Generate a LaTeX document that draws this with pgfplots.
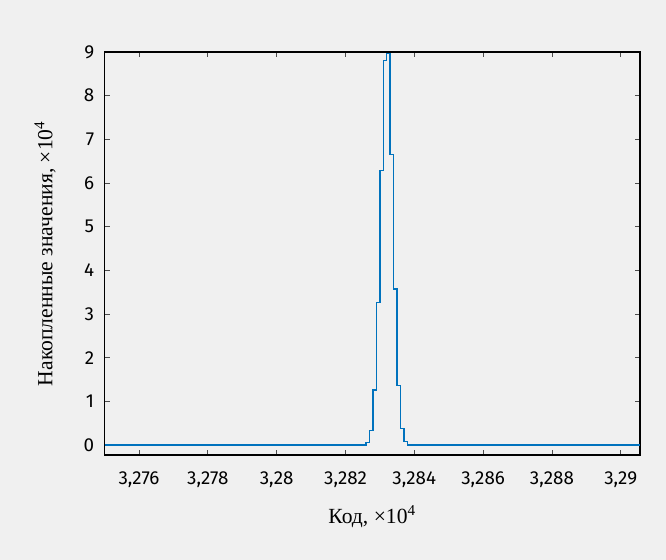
\documentclass[border=0pt]{standalone}
\usepackage{fontspec}
\setmainfont{Liberation Serif}
\newfontfamily\tickfont{Fira Sans}
\usepackage{pgfplots}
\pgfplotsset{compat=1.18}
\definecolor{bg}{RGB}{240,240,240}
\definecolor{mblue}{RGB}{0,114,189}

\begin{document}
\begin{tikzpicture}
% figure background, 666x560 px at 0.5pt per px
\fill[bg] (-52.3pt,-52.5pt) rectangle (280.7pt,227.5pt);
\begin{axis}[
  at={(0,0)}, anchor=south west,
  scale only axis,
  width=267.7pt, height=201.5pt,
  xmin=32750, xmax=32905.6,
  ymin=-0.23, ymax=9,
  scaled x ticks=false,
  xtick={32760,32780,...,32900},
  xticklabels={3{,}276,3{,}278,3{,}28,3{,}282,3{,}284,3{,}286,3{,}288,3{,}29},
  ytick={0,1,...,9},
  /pgf/number format/assume math mode=true,
  tick align=inside,
  major tick length=2.7pt,
  tick style={black!70, line width=0.4pt},
  axis line style={black, line width=0.6pt},
  tick label style={font=\tickfont\fontsize{9.4}{11}\selectfont},
  xticklabel style={yshift=-4.9pt},
  yticklabel style={xshift=-1.7pt},
  every axis x label/.style={at={(rel axis cs:0.5,0)}, anchor=center, yshift=-31pt},
  every axis y label/.style={at={(rel axis cs:0,0.5)}, rotate=90, anchor=center, yshift=29.8pt},
  label style={font=\fontsize{10.8}{13}\selectfont},
  xlabel={Код, ×10\textsuperscript{4}},
  ylabel={Накопленные значения, ×10\textsuperscript{4}},
]
\addplot[const plot, color=mblue, line width=0.7pt] coordinates {
  (32750,0) (32826,0.05) (32827,0.33) (32828,1.26) (32829,3.26)
  (32830,6.28) (32831,8.81) (32832,8.97) (32833,6.65) (32834,3.57)
  (32835,1.36) (32836,0.38) (32837,0.08) (32838,0) (32905.6,0)
};
\end{axis}
\end{tikzpicture}
\end{document}
